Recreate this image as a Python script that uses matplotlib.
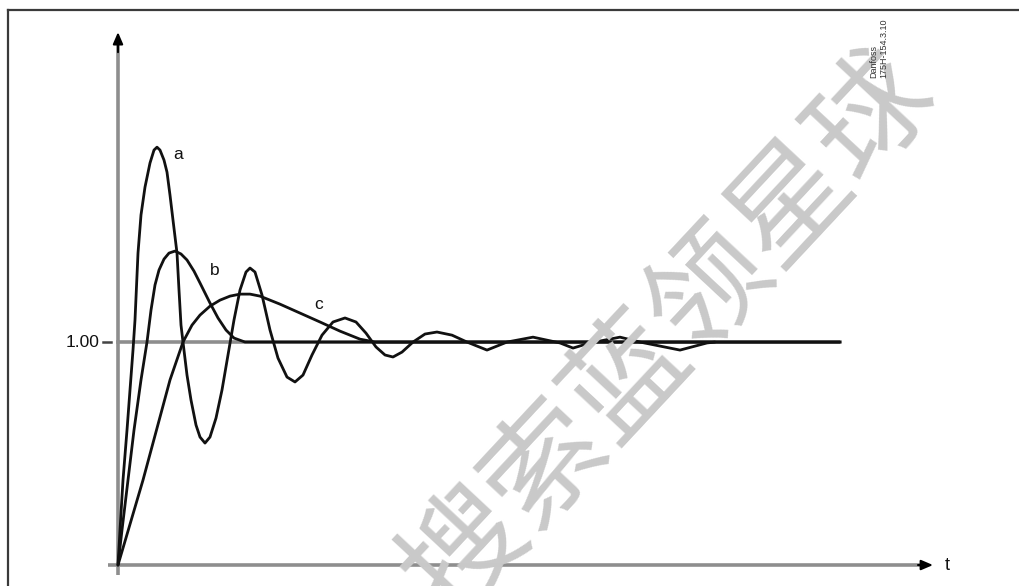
import matplotlib
matplotlib.use("Agg")
import matplotlib.pyplot as plt
from matplotlib.lines import Line2D

# Step responses of a control loop: a = underdamped, b = moderately damped, c = slow
t_a = [0, 0.02, 0.05, 0.09, 0.12, 0.15, 0.17, 0.20, 0.23, 0.27, 0.32, 0.36, 0.39,
       0.42, 0.46, 0.49, 0.52, 0.55, 0.59, 0.61, 0.63, 0.65, 0.69, 0.73, 0.78,
       0.82, 0.87, 0.92, 0.98, 1.04, 1.10, 1.16, 1.22, 1.28, 1.32, 1.37, 1.44,
       1.52, 1.60, 1.69, 1.77, 1.85, 1.94, 2.04, 2.15, 2.27, 2.38, 2.48, 2.58,
       2.67, 2.75, 2.84, 2.95, 3.07, 3.19, 3.34, 3.49, 3.69, 3.89, 4.15, 4.42,
       4.55, 4.72, 5.02, 5.22, 5.62, 5.89, 5.97]
y_a = [0, 0.157, 0.381, 0.605, 0.785, 0.964, 1.099, 1.399, 1.570, 1.695, 1.803,
       1.861, 1.874, 1.861, 1.816, 1.762, 1.659, 1.547, 1.399, 1.233, 1.076, 1.000,
       0.852, 0.740, 0.628, 0.574, 0.547, 0.574, 0.659, 0.785, 0.942, 1.099, 1.233,
       1.314, 1.332, 1.314, 1.211, 1.054, 0.928, 0.843, 0.821, 0.852, 0.942, 1.031,
       1.090, 1.108, 1.090, 1.040, 0.978, 0.942, 0.933, 0.955, 1.000, 1.036, 1.045,
       1.031, 1.000, 0.964, 1.000, 1.022, 0.996, 0.973, 0.996, 1.022, 1.000, 0.964,
       0.996, 1.000]

t_b = [0, 0.04, 0.10, 0.16, 0.23, 0.29, 0.33, 0.37, 0.41, 0.46, 0.51, 0.57, 0.63,
       0.69, 0.76, 0.82, 0.92, 1.00, 1.08, 1.16, 1.27, 1.42, 7.22]
y_b = [0, 0.157, 0.381, 0.605, 0.830, 1.000, 1.143, 1.256, 1.323, 1.372, 1.399,
       1.408, 1.395, 1.368, 1.318, 1.265, 1.175, 1.108, 1.054, 1.018, 1.000, 1.000,
       1.000]

t_c = [0, 0.25, 0.52, 0.65, 0.74, 0.82, 0.92, 1.02, 1.12, 1.22, 1.32, 1.42, 1.52,
       1.62, 1.82, 2.02, 2.22, 2.42, 2.57, 2.82, 7.22]
y_c = [0, 0.381, 0.830, 1.000, 1.076, 1.121, 1.161, 1.188, 1.206, 1.215, 1.215,
       1.206, 1.188, 1.170, 1.130, 1.090, 1.049, 1.013, 1.000, 1.000, 1.000]

curve_labels = ["a", "b", "c"]
label_pos = [(0.55, 1.84), (0.92, 1.32), (1.96, 1.17)]
setpoint = 1.00
setpoint_label = "1.00"
time_label = "t"
watermark = "搜索蓝领星球"
doc_code = ["Danfoss", "175H-154.3.10"]

fig = plt.figure(figsize=(10.2, 5.86), dpi=100)
ax = fig.add_axes([0, 0, 1, 1])
ax.set_xlim(-1.18, 9.02)
ax.set_ylim(-0.094, 2.534)
ax.axis("off")

# watermark underneath everything (runs off the lower edge)
fig.text(0.657, 0.43, watermark, rotation=47, fontsize=86, color="#c9c9c9",
         family=["Noto Sans CJK SC", "DejaVu Sans"], ha="center", va="center",
         zorder=0, rotation_mode="anchor")

# frame on top and left side
fig.add_artist(Line2D([8 / 1020, 1], [1 - 10 / 586, 1 - 10 / 586],
                      color="#3a3a3a", lw=1.6, transform=fig.transFigure))
fig.add_artist(Line2D([8 / 1020, 8 / 1020], [0, 1 - 10 / 586],
                      color="#3a3a3a", lw=1.6, transform=fig.transFigure))

axis_gray = "#8e8e8e"
# y axis with arrow
ax.plot([0, 0], [-0.045, 2.33], color=axis_gray, lw=2.6, zorder=2,
        solid_capstyle="butt")
ax.annotate("", xy=(0, 2.39), xytext=(0, 2.30),
            arrowprops=dict(arrowstyle="-|>,head_length=0.7,head_width=0.3",
                            color="black", lw=1.5, shrinkA=0, shrinkB=0), zorder=3)
# x axis with arrow
ax.plot([-0.10, 8.05], [0, 0], color=axis_gray, lw=2.6, zorder=2,
        solid_capstyle="butt")
ax.annotate("", xy=(8.15, 0), xytext=(8.0, 0),
            arrowprops=dict(arrowstyle="-|>,head_length=0.7,head_width=0.3",
                            color="black", lw=1.5, shrinkA=0, shrinkB=0), zorder=3)

# setpoint reference line, tick and label
ax.plot([0, 7.22], [setpoint, setpoint], color=axis_gray, lw=2.6, zorder=2)
ax.plot([-0.15, -0.07], [setpoint, setpoint], color="#444444", lw=1.8, zorder=2)
ax.text(-0.18, setpoint, setpoint_label, ha="right", va="center", fontsize=12.5,
        family="Liberation Sans", color="#111111")
ax.text(8.27, 0, time_label, ha="left", va="center", fontsize=13,
        family="Liberation Sans", color="#111111")

# response curves
for tt, yy in [(t_c, y_c), (t_b, y_b), (t_a, y_a)]:
    ax.plot(tt, yy, color="#111111", lw=2.0, zorder=4,
            solid_joinstyle="round", solid_capstyle="round")

for lab, (lx, ly) in zip(curve_labels, label_pos):
    ax.text(lx, ly, lab, ha="left", va="center", fontsize=12.5,
            family="Liberation Sans", color="#111111", zorder=5)

# document code, rotated
fig.text(874 / 1020, 1 - 78 / 586, doc_code[0], rotation=90, fontsize=6.5,
         family="Liberation Sans", color="#333333", ha="center", va="bottom")
fig.text(884 / 1020, 1 - 78 / 586, doc_code[1], rotation=90, fontsize=6.5,
         family="Liberation Sans", color="#333333", ha="center", va="bottom")

fig.savefig("out.png", dpi=100)
